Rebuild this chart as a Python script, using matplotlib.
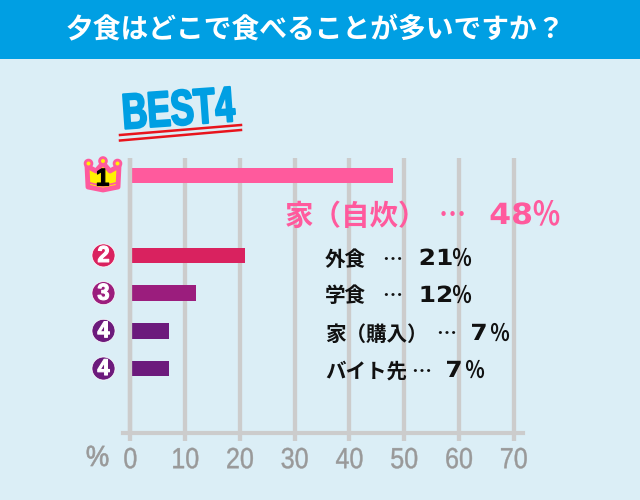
import matplotlib
matplotlib.use('Agg')
import matplotlib.pyplot as plt
from matplotlib.patches import Circle, Polygon, Rectangle
from matplotlib.patheffects import AbstractPathEffect
from matplotlib.transforms import Affine2D
import numpy as np

# data
title = '夕食はどこで食べることが多いですか？'
labels = ['家（自炊）', '外食', '学食', '家（購入）', 'バイト先']
values = [48, 21, 12, 7, 7]
ranks = ['1', '2', '3', '4', '4']
colors = ['#FF5A9D', '#D9225F', '#9B1D7D', '#6C1A7C', '#6C1A7C']
xticks = [0, 10, 20, 30, 40, 50, 60, 70]

JP = ['Noto Sans CJK JP', 'DejaVu Sans']
BG = '#DBEEF6'
BLUE = '#009FE3'
GREY = '#CCCCCC'
TEXT_GREY = '#999999'
BLACK = '#111111'

W, H = 640, 500


class Squeeze(AbstractPathEffect):
    """Scale a text sideways about its middle, no condensed font is installed."""

    def __init__(self, sx, bold=0.0):
        super().__init__()
        self.sx = sx
        self.bold = bold

    def draw_path(self, renderer, gc, tpath, affine, rgbFace=None):
        box = tpath.get_extents()
        mid = (box.x0 + box.x1) / 2
        squeeze = Affine2D().translate(-mid, 0).scale(self.sx, 1).translate(mid, 0)
        gc0 = renderer.new_gc()
        gc0.copy_properties(gc)
        gc0.set_linewidth(self.bold)
        gc0.set_foreground(rgbFace)
        renderer.draw_path(gc0, tpath, squeeze + affine, rgbFace)
        gc0.restore()


def px_box(left, top, right, bottom):
    return [left / W, 1 - bottom / H, (right - left) / W, (bottom - top) / H]


fig = plt.figure(figsize=(6.4, 5.0), dpi=100, facecolor=BG)

# main chart, x data 0-70 runs from px 130.3 to 513.7
unit = (513.7 - 130.3) / 70
ax = fig.add_axes(px_box(123, 158, 523, 433))
ax.patch.set_alpha(0)
ax.set_xlim((123 - 130.3) / unit, (523 - 130.3) / unit)

# the first bar sits apart from the others
slot = 37.7
ypos = np.array([0, 2.12, 3.12, 4.12, 5.12])
ax.set_ylim((433 - 175.5) / slot, -(175.5 - 158) / slot)

ax.barh(ypos, values, height=15.5 / slot, color=colors, zorder=2)
ax.grid(axis='x', color=GREY, linewidth=3.1, zorder=1)
ax.axvline(0, color=GREY, linewidth=3.1, zorder=3)
ax.set_axisbelow(True)

ax.set_xticks(xticks)
ax.set_yticks([])
ax.tick_params(axis='x', length=6, width=3.1, color=GREY, pad=3.5,
               labelsize=21, labelcolor=TEXT_GREY,
               labelfontfamily='Liberation Sans')
for tick_label in ax.get_xticklabels():
    tick_label.set_path_effects([Squeeze(0.86, 0.3)])
for side in ['top', 'left', 'right']:
    ax.spines[side].set_visible(False)
ax.spines['bottom'].set_color(GREY)
ax.spines['bottom'].set_linewidth(3)

# overlay in pixel coordinates for the decoration and text
ov = fig.add_axes([0, 0, 1, 1], zorder=5)
ov.set_xlim(0, W)
ov.set_ylim(H, 0)
ov.axis('off')

ov.add_patch(Rectangle((0, 0), W, 59, color=BLUE, lw=0))
ov.text(315, 30, title, color='white', fontsize=20, fontweight='bold',
        family=JP, ha='center', va='center')

ov.text(178, 112, 'BEST4', color=BLUE, fontsize=36, fontweight='bold',
        family='Liberation Sans', rotation=4, ha='center', va='center',
        rotation_mode='anchor', path_effects=[Squeeze(0.7, 1.5)])
ov.plot([120, 241], [135, 125], color='#E8141C', lw=1.8)
ov.plot([120, 241], [140.5, 130], color='#E8141C', lw=1.8)

# crown for first place
crown = [(87, 166), (96, 171), (103, 163), (110, 171), (119, 166),
         (118, 187), (103, 190), (88, 187)]
ov.add_patch(Polygon(crown, closed=True, fc='#FFF200', ec='#FF5A9D', lw=3.5,
                     joinstyle='round'))
for cx, cy in [(88.5, 163.5), (103, 161), (117.5, 163.5)]:
    ov.add_patch(Circle((cx, cy), 3.4, fc='#FFF200', ec='#FF5A9D', lw=2))
ov.plot([90, 103, 116], [183, 186, 183], color='#FF5A9D', lw=1.3)
ov.text(102.5, 179, ranks[0], color='black', fontsize=17.5, fontweight='bold',
        family='Liberation Sans', ha='center', va='center',
        path_effects=[Squeeze(1.0, 0.8)])

# round rank badges for the others, placed with the bars
badge_x = (103.5 - 130.3) / unit
ax.scatter([badge_x] * 4, ypos[1:], s=275, c=colors[1:], edgecolors='white',
           linewidths=0.5, clip_on=False, zorder=4)
for y, rank in zip(ypos[1:], ranks[1:]):
    ax.text(badge_x, y, rank, color='white', fontsize=16.5, fontweight='bold',
            family='Liberation Sans', ha='center', va='center', clip_on=False,
            zorder=5, path_effects=[Squeeze(0.95, 0.8)])

# big label for the top answer
ov.text(285, 217, labels[0], color=colors[0], fontsize=20.5, fontweight='bold',
        family=JP, ha='left', va='center')
ov.text(452.5, 216, '…', color=colors[0], fontsize=19.5, fontweight='bold',
        family=JP, ha='center', va='center')
ov.text(511, 216, str(values[0]), color=colors[0], fontsize=21, fontweight='bold',
        family='DejaVu Sans', ha='center', va='center',
        path_effects=[Squeeze(1.08)])
ov.text(546.5, 216, '％', color=colors[0], fontsize=24, family='Noto Sans CJK JP',
        fontweight='bold', ha='center', va='center', path_effects=[Squeeze(0.85)])

# smaller labels, the dots follow the label length
text_y = [259, 296, 334, 371]
dots_x = [392.5, 392.5, 446, 421]
digit_x = [436, 436, 479, 454]
sign_x = [462, 462, 500, 475]
for i in range(1, 5):
    ov.text(325, text_y[i - 1], labels[i], color=BLACK, fontsize=14.8,
            fontweight='bold', family=JP, ha='left', va='center')
    ov.text(dots_x[i - 1], text_y[i - 1], '…', color=BLACK, fontsize=14.3,
            fontweight='bold', family=JP, ha='center', va='center')
    ov.text(digit_x[i - 1], text_y[i - 1], str(values[i]), color=BLACK,
            fontsize=16, fontweight='bold', family='DejaVu Sans', ha='center',
            va='center', path_effects=[Squeeze(1.12)])
    ov.text(sign_x[i - 1], text_y[i - 1], '％', color=BLACK, fontsize=17,
            fontweight='bold', family='Noto Sans CJK JP', ha='center', va='center',
            path_effects=[Squeeze(0.85)])

ov.text(97.5, 458, '%', color=TEXT_GREY, fontsize=21, family='Liberation Sans',
        ha='center', va='center', path_effects=[Squeeze(0.9, 0.5)])

fig.savefig('out.png', dpi=100, facecolor=BG)
